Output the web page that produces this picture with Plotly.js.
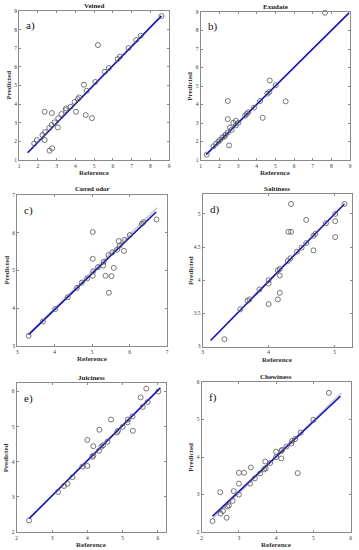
<!DOCTYPE html>
<html>
<head>
<meta charset="utf-8">
<script src="https://cdn.plot.ly/plotly-3.0.1.min.js"></script>
<style>html,body{margin:0;padding:0;background:#fff;}#chart{width:359px;height:550px;}</style>
</head>
<body>
<div id="chart"></div>
<script>
// ---------- DATA ----------
const panelTitles = ["Veined", "Exudate", "Cured odor", "Saltiness", "Juiciness", "Chewiness"];
const panelLetters = ["a)", "b)", "c)", "d)", "e)", "f)"];
const xAxisTitle = "Reference";
const yAxisTitle = "Predicted";

const aRef  = [8.6,7.49,7.25,6.84,5.21,6.39,6.26,5.79,5.58,5.07,4.46,4.61,4.21,4.14,3.96,3.75,3.51,3.49,3.26,3.09,2.89,2.74,2.61,3.07,2.39,2.25,1.95,1.81,2.37,2.75,2.37,4.04,4.56,4.89,2.77,2.63];
const aPred = [8.73,7.67,7.44,7.01,7.17,6.55,6.42,5.94,5.74,5.19,5.04,4.72,4.36,4.27,4.11,3.86,3.77,3.68,3.47,3.24,3.02,2.88,2.72,2.75,2.50,2.34,2.07,1.88,3.59,3.52,2.07,3.59,3.41,3.25,1.63,1.50];
const aLineX = [1.46, 8.6];
const aLineY = [1.39, 8.74];

const bRef  = [7.66,4.70,5.02,4.68,4.57,5.55,2.45,4.18,4.32,2.45,3.86,3.55,3.46,3.38,3.02,2.88,2.75,2.88,2.57,2.66,2.45,2.34,2.27,2.16,2.04,1.95,1.82,1.68,2.52,1.32];
const bPred = [8.96,5.30,5.04,4.68,4.59,4.17,4.19,4.19,3.28,3.21,3.83,3.58,3.49,3.40,3.01,3.12,3.01,2.87,2.76,2.63,2.49,2.38,2.27,2.22,2.09,2.00,1.88,1.74,1.79,1.29];
const bLineX = [1.29, 8.95];
const bLineY = [1.29, 8.95];

const cRef  = [3.31,3.69,4.02,4.35,4.60,4.73,4.87,5.02,5.03,5.02,5.02,5.16,5.30,5.31,5.36,5.44,5.45,5.52,5.58,5.54,5.67,5.74,5.71,5.85,5.86,6.01,6.33,6.37,6.72];
const cPred = [3.27,3.65,3.98,4.29,4.54,4.68,4.79,4.86,4.98,5.31,6.02,5.09,5.13,5.23,4.86,5.41,4.41,4.85,5.07,5.48,5.55,5.66,5.78,5.52,5.81,5.94,6.24,6.28,6.35];
const cLineX = [3.31, 6.71];
const cLineY = [3.30, 6.55];
const cIdealX = [3.30, 6.73];
const cIdealY = [3.30, 6.66];

const dRef  = [3.33,3.57,3.68,3.71,3.86,4.00,4.00,4.00,4.14,4.17,4.17,4.14,4.17,4.29,4.33,4.30,4.34,4.34,4.43,4.50,4.57,4.57,4.68,4.68,4.71,4.87,5.01,5.01,5.01,5.15];
const dPred = [3.11,3.56,3.69,3.71,3.86,4.00,3.95,3.64,4.15,4.17,4.07,3.71,3.81,4.29,4.33,4.73,4.73,5.15,4.43,4.49,4.56,4.91,4.45,4.67,4.70,4.86,5.00,4.89,4.65,5.15];
const dLineX = [3.12, 5.15];
const dLineY = [3.09, 5.15];

const eRef  = [2.35,3.17,3.34,3.44,3.58,3.86,4.00,4.00,4.17,4.14,4.17,4.33,4.40,4.45,4.57,4.34,4.67,4.84,4.87,5.00,5.14,5.15,5.29,5.28,5.51,5.57,5.67,5.71,6.01];
const ePred = [2.33,3.14,3.31,3.37,3.56,3.86,3.88,4.62,4.44,4.14,4.17,4.31,4.43,4.47,4.57,4.91,5.20,4.83,4.88,4.99,5.12,5.20,4.88,5.29,5.83,5.56,6.08,5.70,6.00];
const eLineX = [2.35, 6.07];
const eLineY = [2.38, 6.10];

const fRef  = [2.29,2.50,2.51,2.57,2.67,2.69,2.73,2.83,2.86,3.00,3.00,3.00,3.14,3.32,3.30,3.43,3.57,3.68,3.72,3.71,3.84,4.00,4.00,4.14,4.16,4.14,4.28,4.41,4.43,4.51,4.66,4.58,5.00,5.42];
const fPred = [2.29,3.06,2.49,2.56,2.38,2.68,2.71,2.83,3.09,3.00,3.29,3.58,3.58,3.72,3.29,3.43,3.56,3.67,3.70,3.88,3.84,4.14,4.00,4.16,4.19,3.96,4.28,4.36,4.43,4.48,4.65,3.57,4.99,5.71];
const fLineX = [2.29, 5.73];
const fLineY = [2.42, 5.62];
const fIdealX = [2.29, 5.76];
const fIdealY = [2.35, 5.71];

// ---------- LAYOUT (pixel boxes) ----------
const W = 359, H = 550;
const FONT = "Liberation Serif, Times New Roman, serif";
const boxes = [
  {x0:19,  x1:169,   y0:11,  y1:160, xr:[1,9],    yr:[1,9],    dt:1},
  {x0:200.7,x1:350,  y0:12,  y1:160, xr:[1,9],    yr:[1,9],    dt:1},
  {x0:17,  x1:167,   y0:195, y1:346, xr:[3,7],    yr:[3,7],    dt:1},
  {x0:202.7,x1:351.7,y0:194, y1:346.5, xr:[3,5.26], yr:[3,5.3], dt:0.5, dtx:1},
  {x0:16.7,x1:165.7, y0:383, y1:532, xr:[2,6.22], yr:[2,6.24], dt:1},
  {x0:201.7,x1:350.5,y0:382, y1:532, xr:[2,6],    yr:[2,6],    dt:1}
];
const series = [
  {rx:aRef, py:aPred, lx:aLineX, ly:aLineY},
  {rx:bRef, py:bPred, lx:bLineX, ly:bLineY},
  {rx:cRef, py:cPred, lx:cLineX, ly:cLineY, ix:cIdealX, iy:cIdealY},
  {rx:dRef, py:dPred, lx:dLineX, ly:dLineY},
  {rx:eRef, py:ePred, lx:eLineX, ly:eLineY},
  {rx:fRef, py:fPred, lx:fLineX, ly:fLineY, ix:fIdealX, iy:fIdealY}
];

const px = v => v / W;
const py = v => 1 - v / H;

const traces = [];
const layout = {
  width: W, height: H,
  margin: {l:0, r:0, t:0, b:0},
  paper_bgcolor: "#fff", plot_bgcolor: "#fff",
  showlegend: false,
  font: {family: FONT, color: "#222"},
  annotations: []
};

boxes.forEach((b, i) => {
  const n = i + 1;
  const xa = "x" + (n === 1 ? "" : n), ya = "y" + (n === 1 ? "" : n);
  const s = series[i];
  if (s.ix) {
    traces.push({x: s.ix, y: s.iy, xaxis: xa, yaxis: ya, mode: "lines",
      line: {color: "#cfcfcf", width: 2}, hoverinfo: "skip"});
  }
  traces.push({x: s.lx, y: s.ly, xaxis: xa, yaxis: ya, mode: "lines",
    line: {color: "#1010c8", width: 1.6}});
  traces.push({x: s.rx, y: s.py, xaxis: xa, yaxis: ya, mode: "markers", cliponaxis: false,
    marker: {symbol: "circle-open", size: 5, color: "#555", line: {width: 0.8, color: "#555"}}});

  const axCommon = {
    showgrid: false, zeroline: false, showline: true, mirror: "ticks",
    linecolor: "#8a8a8a", linewidth: 1, ticks: "inside", ticklen: 2,
    tickcolor: "#8a8a8a", tickfont: {size: 5.5, family: FONT, color: "#333"},
    fixedrange: true
  };
  layout["xaxis" + (n === 1 ? "" : n)] = Object.assign({}, axCommon, {
    domain: [px(b.x0), px(b.x1)], range: b.xr, dtick: b.dtx || b.dt, tick0: 0,
    anchor: ya
  });
  layout["yaxis" + (n === 1 ? "" : n)] = Object.assign({}, axCommon, {
    domain: [py(b.y1), py(b.y0)], range: b.yr, dtick: b.dt, tick0: 0,
    anchor: xa
  });

  const cx = (b.x0 + b.x1) / 2, cy = (b.y0 + b.y1) / 2;
  layout.annotations.push({xref: "paper", yref: "paper", x: px(cx), y: py(b.y0 - 5.5),
    text: "<b>" + panelTitles[i] + "</b>", showarrow: false, xanchor: "center", yanchor: "middle",
    font: {size: 7, family: FONT, color: "#222"}});
  layout.annotations.push({xref: "paper", yref: "paper", x: px(cx), y: py(b.y1 + 13),
    text: "<b>" + xAxisTitle + "</b>", showarrow: false, xanchor: "center", yanchor: "middle",
    font: {size: 7, family: FONT, color: "#333"}});
  layout.annotations.push({xref: "paper", yref: "paper", x: px(b.x0 - 11), y: py(cy),
    text: "<b>" + yAxisTitle + "</b>", showarrow: false, textangle: -90, xanchor: "center", yanchor: "middle",
    font: {size: 7, family: FONT, color: "#333"}});
  layout.annotations.push({xref: "paper", yref: "paper", x: px(b.x0 + 5), y: py(b.y0 + 15),
    text: panelLetters[i], showarrow: false, xanchor: "left", yanchor: "middle",
    font: {size: 11, family: FONT, color: "#111"}});
});

Plotly.newPlot("chart", traces, layout, {displayModeBar: false, staticPlot: true});
</script>
</body>
</html>
